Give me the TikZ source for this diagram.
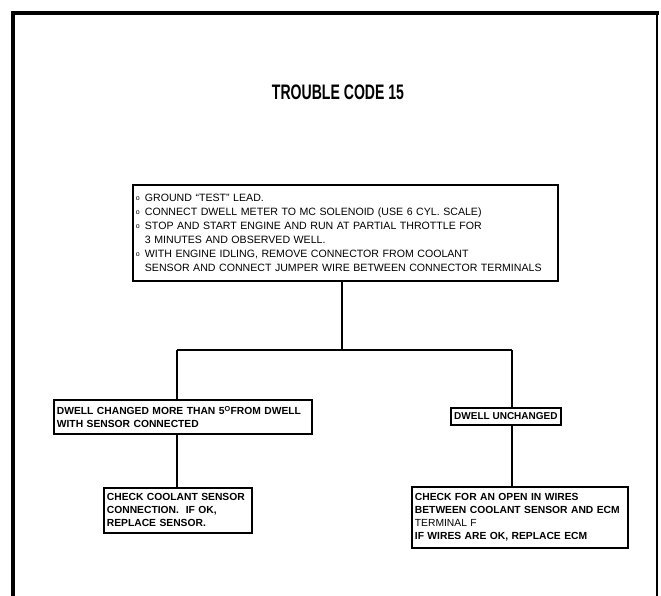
\documentclass[tikz,border=0pt]{standalone}
\usepackage{fontspec}
\setmainfont{Liberation Sans}
\tikzset{
  frameline/.style={line width=4.5pt, line cap=rect, line join=miter},
  conn/.style={line width=1.8pt},
  plainbox/.style={draw, line width=1.8pt, rectangle, anchor=north west, align=left,
    inner xsep=3pt, inner ysep=0pt, font=\fontsize{10.6}{14}\selectfont},
  boldbox/.style={draw, line width=1.8pt, rectangle, anchor=north west, align=left,
    inner xsep=3pt, inner ysep=0pt, font=\fontsize{10.3}{13}\selectfont\bfseries},
  titletext/.style={font=\fontsize{21}{23}\selectfont\bfseries, inner sep=0pt}
}
\newcommand{\bul}{\makebox[9pt][l]{\raisebox{1pt}{\fontsize{7}{7}\selectfont o}}}
\newcommand{\ind}{\hspace*{9pt}}
\begin{document}
\begin{tikzpicture}[x=1pt,y=-1pt]
\useasboundingbox (0,0) rectangle (661,596);
% outer frame
\draw[frameline] (13,596) -- (13,13) -- (657,13);
\draw[line width=2.2pt] (657,13) -- (657,596);
% title
\node[titletext] (title) at (338,92) {\scalebox{0.67}[1]{TROUBLE CODE 15}};
% boxes
\node[plainbox, text width=419pt, minimum height=96pt] (top) at (132,184)
 {\bul GROUND ``TEST'' LEAD.\\
  \bul CONNECT DWELL METER TO MC SOLENOID (USE 6 CYL. SCALE)\\
  \bul STOP AND START ENGINE AND RUN AT PARTIAL THROTTLE FOR\\
  \ind 3 MINUTES AND OBSERVED WELL.\\
  \bul WITH ENGINE IDLING, REMOVE CONNECTOR FROM COOLANT\\
  \ind SENSOR AND CONNECT JUMPER WIRE BETWEEN CONNECTOR TERMINALS};
\node[boldbox, text width=252pt, minimum height=34pt] (lm) at (53,399)
 {DWELL CHANGED MORE THAN 5\textsuperscript{O}FROM DWELL\\
  WITH SENSOR CONNECTED};
\node[boldbox, align=center, minimum width=110pt, minimum height=17pt,
      font=\fontsize{10}{12}\selectfont\bfseries] (rm) at (450,407)
 {DWELL UNCHANGED};
\node[boldbox, text width=142pt, minimum height=45pt] (lb) at (103,487)
 {CHECK COOLANT SENSOR\\
  CONNECTION.\ \ IF OK,\\
  REPLACE SENSOR.};
\node[boldbox, text width=210pt, minimum height=61pt] (rb) at (411,486)
 {CHECK FOR AN OPEN IN WIRES\\
  BETWEEN COOLANT SENSOR AND ECM\\
  {\mdseries TERMINAL F}\\
  IF WIRES ARE OK, REPLACE ECM};
% connectors
\coordinate (jt) at (342,350);
\coordinate (jl) at (177,350);
\coordinate (jr) at (512,350);
\draw[conn] (top.south -| jt) -- (jt);
\draw[conn] (jl) -- (jr);
\draw[conn] (jl) -- (jl |- lm.north);
\draw[conn] (jr) -- (jr |- rm.north);
\draw[conn] (jl |- lm.south) -- (jl |- lb.north);
\draw[conn] (jr |- rm.south) -- (jr |- rb.north);
\end{tikzpicture}
\end{document}
